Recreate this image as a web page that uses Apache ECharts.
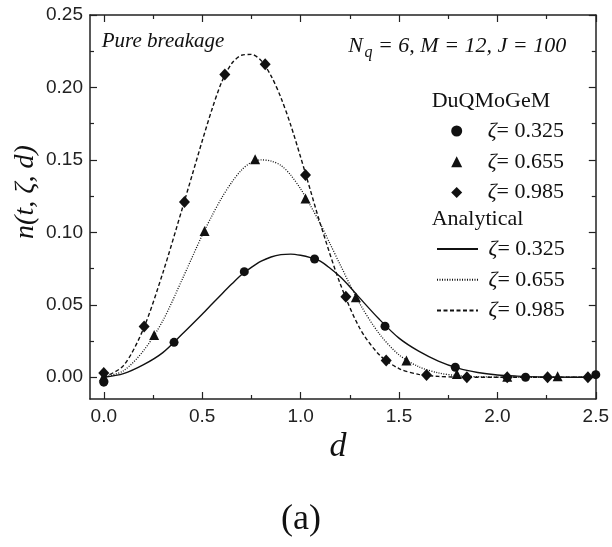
<!DOCTYPE html>
<html>
<head>
<meta charset="utf-8">
<script src="https://cdn.jsdelivr.net/npm/echarts@6/dist/echarts.min.js"></script>
<style>html,body{margin:0;padding:0;background:#fff;}#c{width:612px;height:547px;}</style>
</head>
<body>
<div id="c"></div>
<script>
// ---- data ----
const circleD = [0, 0.357, 0.714, 1.071, 1.429, 1.786, 2.143, 2.5];
const circleN = [-0.0034, 0.0241, 0.0729, 0.0816, 0.0352, 0.0069, 0.0000, 0.0018];
const triD = [0, 0.256, 0.512, 0.769, 1.025, 1.281, 1.538, 1.794, 2.05, 2.306];
const triN = [0.0005, 0.0292, 0.1010, 0.1505, 0.1233, 0.0552, 0.0115, 0.0023, 0.0003, 0.0007];
const diaD = [0, 0.205, 0.41, 0.615, 0.82, 1.025, 1.23, 1.435, 1.64, 1.845, 2.05, 2.255, 2.46];
const diaN = [0.0030, 0.0350, 0.1210, 0.2090, 0.2160, 0.1395, 0.0556, 0.0115, 0.0016, 0.0000, 0.0000, 0.0000, 0.0000];

const d325 = [0,0.1,0.2,0.3,0.4,0.5,0.55,0.6,0.65,0.7,0.75,0.8,0.85,0.9,0.95,1.0,1.05,1.1,1.15,1.2,1.25,1.3,1.4,1.5,1.6,1.7,1.8,1.9,2.0,2.1,2.2,2.3,2.5];
const n325 = [0,0.0025,0.0085,0.017,0.030,0.0435,0.0505,0.0575,0.0643,0.0707,0.0758,0.0801,0.0830,0.0846,0.0850,0.0842,0.0826,0.0801,0.0752,0.0695,0.0625,0.0548,0.0400,0.0270,0.0180,0.0112,0.0063,0.0033,0.0016,0.0008,0.0003,0.0001,0];
const d655 = [0,0.1,0.2,0.3,0.4,0.5,0.55,0.6,0.65,0.7,0.75,0.8,0.85,0.9,0.95,1.0,1.05,1.1,1.15,1.2,1.3,1.4,1.5,1.6,1.7,1.8,1.9,2.0,2.2,2.5];
const n655 = [0,0.0045,0.018,0.039,0.068,0.098,0.1115,0.124,0.1345,0.1430,0.1483,0.1500,0.1492,0.1462,0.1395,0.1300,0.1185,0.1060,0.0920,0.0780,0.0510,0.0300,0.0155,0.0073,0.0030,0.0011,0.0004,0.0001,0,0];
const d985 = [0,0.1,0.2,0.3,0.4,0.45,0.5,0.55,0.6,0.65,0.7,0.75,0.8,0.85,0.9,0.95,1.0,1.05,1.1,1.2,1.3,1.4,1.5,1.6,1.7,1.8,2.0,2.5];
const n985 = [0,0.008,0.033,0.072,0.117,0.140,0.163,0.185,0.204,0.2165,0.2222,0.2228,0.2185,0.2080,0.1930,0.1740,0.1520,0.1290,0.1060,0.0650,0.0340,0.0155,0.0060,0.0020,0.0006,0.0001,0,0];

const xMajor = [0, 0.5, 1.0, 1.5, 2.0, 2.5];
const xMinor = [0.25, 0.75, 1.25, 1.75, 2.25];
const yMajor = [0, 0.05, 0.10, 0.15, 0.20, 0.25];
const yMinor = [0.025, 0.075, 0.125, 0.175, 0.225];
const zetaLabels = ['0.325', '0.655', '0.985'];

// ---- chart ----
const pair = (xs, ys) => xs.map((x, i) => [x, ys[i]]);
const INK = '#111';
const AX = '#222';
const serif = 'Liberation Serif';
const sans = 'Liberation Sans';
const XMIN = -0.07, XMAX = 2.5, YMIN = -0.015, YMAX = 0.25;

function xAx(pos, vals, len, line, labels) {
  return {
    type: 'value', position: pos, min: XMIN, max: XMAX,
    axisLine: { show: line, onZero: false, lineStyle: { color: AX, width: 1.5 } },
    axisTick: { show: true, inside: true, length: len, customValues: vals, lineStyle: { color: AX, width: 1.2 } },
    axisLabel: labels ? { show: true, customValues: vals, formatter: v => v.toFixed(1), margin: 8,
      color: AX, fontFamily: sans, fontSize: 19 } : { show: false },
    splitLine: { show: false }
  };
}
function yAx(pos, vals, len, line, labels) {
  return {
    type: 'value', position: pos, min: YMIN, max: YMAX,
    axisLine: { show: line, onZero: false, lineStyle: { color: AX, width: 1.5 } },
    axisTick: { show: true, inside: true, length: len, customValues: vals, lineStyle: { color: AX, width: 1.2 } },
    axisLabel: labels ? { show: true, customValues: vals, formatter: v => v.toFixed(2), margin: 7,
      color: AX, fontFamily: sans, fontSize: 19 } : { show: false },
    splitLine: { show: false }
  };
}

const labelMap = { D1: 0, D2: 1, D3: 2, A1: 0, A2: 1, A3: 2 };
function richStyle(gap) {
  return {
    g: { width: gap, fontSize: 22, lineHeight: 22 },
    z: { fontFamily: serif, fontStyle: 'italic', fontSize: 22, color: INK, lineHeight: 22 },
    t: { fontFamily: serif, fontSize: 22, color: INK, lineHeight: 22 }
  };
}

const chart = echarts.init(document.getElementById('c'), null, { renderer: 'canvas' });
chart.setOption({
  animation: false,
  backgroundColor: '#fff',
  grid: { left: 90, right: 14, top: 15, bottom: 148 },
  xAxis: [
    xAx('bottom', xMajor, 7, true, true),
    xAx('bottom', xMinor, 4, false, false),
    xAx('top', xMajor, 7, true, false),
    xAx('top', xMinor, 4, false, false)
  ],
  yAxis: [
    yAx('left', yMajor, 7, true, true),
    yAx('left', yMinor, 4, false, false),
    yAx('right', yMajor, 7, true, false),
    yAx('right', yMinor, 4, false, false)
  ],
  legend: [
    {
      data: ['D1', 'D2', 'D3'], orient: 'vertical', left: 446.2, top: 115, padding: 5,
      itemWidth: 11, itemHeight: 11, itemGap: 8.8, selectedMode: false, symbolKeepAspect: true,
      itemStyle: { opacity: 1 },
      formatter: n => '{g| }{z|ζ}{t|= ' + zetaLabels[labelMap[n]] + '}',
      textStyle: { fontFamily: serif, fontSize: 22, color: INK, lineHeight: 22, rich: richStyle(20.5) }
    },
    {
      data: ['A1', 'A2', 'A3'], orient: 'vertical', left: 431, top: 233, padding: 5,
      itemWidth: 41, itemHeight: 10, itemGap: 8.8, selectedMode: false,
      itemStyle: { opacity: 0 },
      formatter: n => '{g| }{z|ζ}{t|= ' + zetaLabels[labelMap[n]] + '}',
      textStyle: { fontFamily: serif, fontSize: 22, color: INK, lineHeight: 22, rich: richStyle(5.5) }
    }
  ],
  series: [
    { name: 'A1', type: 'line', data: pair(d325, n325), symbol: 'none', smooth: 0.3, z: 2,
      lineStyle: { color: INK, width: 1.4, type: 'solid' }, itemStyle: { color: INK } },
    { name: 'A2', type: 'line', data: pair(d655, n655), symbol: 'none', smooth: 0.3, z: 2,
      lineStyle: { color: INK, width: 1.3, type: [1, 1.5] }, itemStyle: { color: INK } },
    { name: 'A3', type: 'line', data: pair(d985, n985), symbol: 'none', smooth: 0.3, z: 2,
      lineStyle: { color: INK, width: 1.4, type: [4, 2.5] }, itemStyle: { color: INK } },
    { name: 'D1', type: 'scatter', data: pair(circleD, circleN), symbol: 'circle', symbolSize: 9, z: 3,
      itemStyle: { color: INK, opacity: 1 } },
    { name: 'D2', type: 'scatter', data: pair(triD, triN), symbol: 'triangle', symbolSize: 10, z: 3,
      itemStyle: { color: INK, opacity: 1 } },
    { name: 'D3', type: 'scatter', data: pair(diaD, diaN), symbol: 'diamond', symbolSize: [11, 12], z: 3,
      itemStyle: { color: INK, opacity: 1 } }
  ],
  graphic: [
    { type: 'text', left: 101.7, top: 31, style: { text: 'Pure breakage', fontFamily: serif, fontStyle: 'italic', fontSize: 21, fill: INK } },
    { type: 'text', x: 348.3, y: 46.7, style: { text: 'N', fontFamily: serif, fontStyle: 'italic', fontSize: 22, fill: INK, verticalAlign: 'middle' } },
    { type: 'text', x: 364.5, y: 52.5, style: { text: 'q', fontFamily: serif, fontStyle: 'italic', fontSize: 16, fill: INK, verticalAlign: 'middle' } },
    { type: 'text', x: 378, y: 46.7, style: { text: '= 6, M = 12, J = 100', fontFamily: serif, fontStyle: 'italic', fontSize: 22, fill: INK, verticalAlign: 'middle' } },
    { type: 'text', x: 431.7, y: 101.7, style: { text: 'DuQMoGeM', fontFamily: serif, fontSize: 22, fill: INK, verticalAlign: 'middle' } },
    { type: 'text', x: 431.7, y: 219.3, style: { text: 'Analytical', fontFamily: serif, fontSize: 22, fill: INK, verticalAlign: 'middle' } },
    { type: 'text', x: 338, y: 447, style: { text: 'd', fontFamily: serif, fontStyle: 'italic', fontSize: 34, fill: INK, align: 'center', verticalAlign: 'middle' } },
    { type: 'text', x: 26, y: 192, rotation: Math.PI / 2, style: { text: 'n(t, ζ, d)', fontFamily: serif, fontStyle: 'italic', fontSize: 28, fill: INK, align: 'center', verticalAlign: 'middle' } },
    { type: 'text', x: 301, y: 520, style: { text: '(a)', fontFamily: serif, fontSize: 36, fill: INK, align: 'center', verticalAlign: 'middle' } }
  ]
});
</script>
</body>
</html>
